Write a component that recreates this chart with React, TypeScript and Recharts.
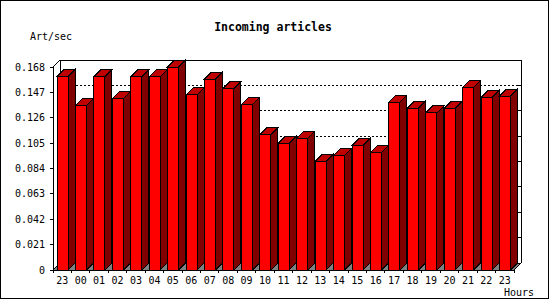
import { Bar, BarChart, CartesianGrid, XAxis, YAxis } from "recharts";

const hours = ["23", "00", "01", "02", "03", "04", "05", "06", "07", "08", "09", "10", "11", "12", "13", "14", "15", "16", "17", "18", "19", "20", "21", "22", "23"];
const rates = [0.160, 0.136, 0.160, 0.142, 0.160, 0.160, 0.168, 0.145, 0.158, 0.150, 0.137, 0.112, 0.105, 0.109, 0.090, 0.095, 0.103, 0.097, 0.139, 0.134, 0.130, 0.134, 0.151, 0.143, 0.144];
const yTicks = [0, 0.021, 0.042, 0.063, 0.084, 0.105, 0.126, 0.147, 0.168];

const data = hours.map((hour, i) => ({ hour, rate: rates[i] }));

// layout
const W = 550;
const H = 300;
const LEFT = 53;
const TOP = 67;
const PLOT_W = 461;
const PLOT_H = 203;
const BOTTOM = TOP + PLOT_H;
const D = 7; // depth of the 3d effect
const FONT = "'DejaVu Sans Mono', monospace";

const crisp = { shapeRendering: "crispEdges" as const };

function Bar3D(p: any) {
  const { x, y, width: w, height: h } = p;
  if (!(h > 0)) return null;
  const top = `${x},${y} ${x + D},${y - D} ${x + w + D},${y - D} ${x + w},${y}`;
  const side = `${x + w},${y} ${x + w + D},${y - D} ${x + w + D},${y + h - D} ${x + w},${y + h}`;
  return (
    <g {...crisp}>
      <polygon points={top} fill="#c00000" stroke="#000" />
      <polygon points={side} fill="#800000" stroke="#000" />
      <rect x={x} y={y} width={w} height={h} fill="#ff0000" stroke="#000" />
    </g>
  );
}

function gridLine(p: any) {
  const { x1, x2, y1 } = p;
  const k = p.key ?? p.index;
  if (Math.abs(y1 - BOTTOM) < 0.5) {
    const floor = `${x1},${y1} ${x2},${y1} ${x2 + D},${y1 - D} ${x1 + D},${y1 - D}`;
    return (
      <g key={k} {...crisp}>
        <polygon points={floor} fill="#808080" stroke="#000" />
        <line x1={x1 + D} y1={y1 - D} x2={x1 + D} y2={TOP - D} stroke="#000" />
      </g>
    );
  }
  if (Math.abs(y1 - TOP) < 0.5) {
    return (
      <g key={k} {...crisp}>
        <line x1={x1} y1={y1} x2={x1 + D} y2={y1 - D} stroke="#000" />
        <line x1={x1 + D} y1={y1 - D} x2={x2 + D} y2={y1 - D} stroke="#000" />
        <line x1={x2 + D} y1={y1 - D} x2={x2 + D} y2={BOTTOM - D} stroke="#000" />
        <line x1={x2} y1={BOTTOM} x2={x2 + D} y2={BOTTOM - D} stroke="#000" />
      </g>
    );
  }
  return (
    <g key={k} {...crisp}>
      <line x1={x1 + D} y1={y1 - D} x2={x2 + D} y2={y1 - D} stroke="#000" strokeDasharray="2 2" />
      <line x1={x2 + D - 3} y1={y1 - D} x2={x2 + D} y2={y1 - D} stroke="#000" />
    </g>
  );
}

function HourTick(p: any) {
  const { x, y, payload, index } = p;
  const band = PLOT_W / hours.length;
  const last = index === hours.length - 1;
  return (
    <g>
      <line x1={x - band / 2} y1={y} x2={x - band / 2} y2={y + 3} stroke="#000" {...crisp} />
      {last && <line x1={x + band / 2} y1={y} x2={x + band / 2} y2={y + 3} stroke="#000" {...crisp} />}
      <text x={x} y={y + 13.5} textAnchor="middle" fontFamily={FONT} fontSize={10} fill="#000">
        {payload.value}
      </text>
    </g>
  );
}

export default function App() {
  return (
    <div style={{ position: "absolute", left: 0, top: 0, width: W, height: H, background: "#fff" }}>
      <div
        style={{
          position: "absolute",
          left: 0,
          top: 0,
          width: 549,
          height: 299,
          border: "1px solid #000",
          boxSizing: "border-box",
        }}
      />
      <div style={{ position: "absolute", left: 0, top: 0 }}>
        <BarChart
          width={W}
          height={H}
          data={data}
          margin={{ top: TOP, right: W - LEFT - PLOT_W, bottom: H - BOTTOM - 20, left: LEFT - 50 }}
        >
          <CartesianGrid vertical={false} horizontal={gridLine} />
          <XAxis
            dataKey="hour"
            height={20}
            tickLine={false}
            tickSize={0}
            tickMargin={0}
            interval={0}
            axisLine={{ stroke: "#000", shapeRendering: "crispEdges" }}
            tick={<HourTick />}
          />
          <YAxis
            width={50}
            domain={[0, 0.168]}
            ticks={yTicks}
            interval={0}
            tickSize={3}
            tickMargin={5}
            axisLine={{ stroke: "#000", shapeRendering: "crispEdges" }}
            tickLine={{ stroke: "#000", shapeRendering: "crispEdges" }}
            tick={{ fontFamily: FONT, fontSize: 10, fill: "#000" }}
            tickFormatter={(v: number) => (v === 0 ? "0" : v.toFixed(3))}
          />
          <Bar dataKey="rate" barSize={11} shape={Bar3D} isAnimationActive={false} />
        </BarChart>
      </div>
      <svg width={W} height={H} style={{ position: "absolute", left: 0, top: 0, pointerEvents: "none" }}>
        <text x={273} y={31} textAnchor="middle" fontFamily={FONT} fontSize={11.5} fontWeight="bold" fill="#000">
          Incoming articles
        </text>
        <text x={30} y={40} fontFamily={FONT} fontSize={10} fill="#000">
          Art/sec
        </text>
        <text x={504} y={296} fontFamily={FONT} fontSize={10} fill="#000">
          Hours
        </text>
      </svg>
    </div>
  );
}
